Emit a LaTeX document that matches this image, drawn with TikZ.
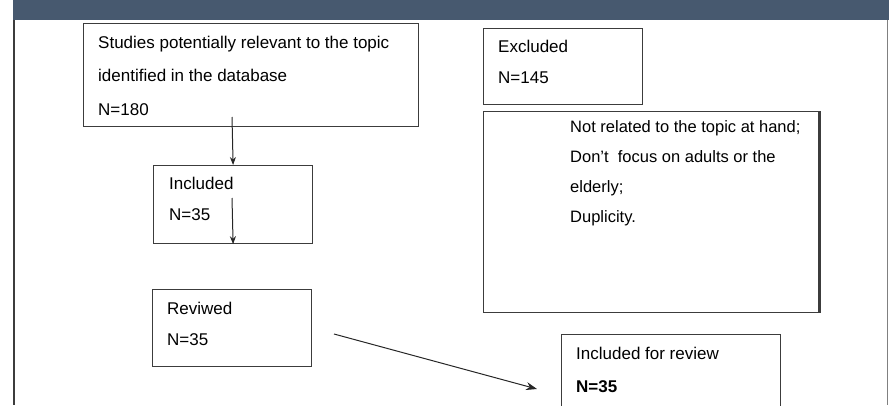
\documentclass[tikz,border=0pt]{standalone}
\usepackage{fontspec}
\setmainfont{Liberation Sans}
\usepackage{xcolor}
\usepackage{tikz}
\usetikzlibrary{arrows.meta}

\definecolor{banner}{RGB}{71,89,111}
\definecolor{edge}{RGB}{60,60,60}

\begin{document}
\begin{tikzpicture}[x=1pt, y=-1pt,
    box/.style={draw=edge, line width=1.2pt, rectangle, anchor=north west, inner sep=0pt},
    txt/.style={anchor=base west, align=left, inner sep=0pt, font=\fontsize{17}{31}\selectfont},
    arr/.style={-{Stealth[length=8pt,width=6pt]}, line width=1pt, draw=black!85}]
    \clip (0,0) rectangle (889,405);
    \fill[banner] (13,0) rectangle (889,20);
    \draw[edge, line width=1.5pt] (14,20) -- (14,405);
    \draw[gray, line width=0.8pt] (887,20) -- (887,405);

    % Boxes
    \foreach \name/\x/\y/\w/\h in {src/83/23/335/103, inc/153/165/159/78, exc/483/28/159/76, why/483/111/335/201, rev/152/289/159/77, fin/561/334/219/80}
        \node[box, minimum width=\w, minimum height=\h] (\name) at (\x,\y) {};
    \draw[edge, line width=3pt] (why.north east) -- (why.south east);

    % Texts (placed at the baseline of their last line)
    \node[txt, font=\fontsize{17}{33.5}\selectfont] (srcT) at (98,115) {Studies potentially relevant to the topic\\identified in the database\\N=180};
    \node[txt] (incT) at (169,220) {Included\\N=35};
    \node[txt] (excT) at (498,83) {Excluded\\N=145};
    \node[txt, font=\fontsize{16.5}{29.7}\selectfont] (whyT) at (570,222) {Not related to the topic at hand;\\Don’t\ \ focus on adults or the\\elderly;\\Duplicity.};
    \node[txt] (revT) at (167,345) {Reviwed\\N=35};
    \node[txt, font=\fontsize{17}{33}\selectfont] (finT) at (576,392) {Included for review\\\textbf{N=35}};

    % Arrows
    \coordinate (srcOut) at (232,117);
    \coordinate (incOut) at (232,198);
    \coordinate (revOut) at (334,334);
    \coordinate (finIn) at (537,389);
    \draw[arr] (srcOut) -- (inc.north);
    \draw[arr] (incOut) -- (inc.south);
    \draw[arr, -{Stealth[length=11pt,width=8pt]}] (revOut) -- (finIn);
\end{tikzpicture}
\end{document}
